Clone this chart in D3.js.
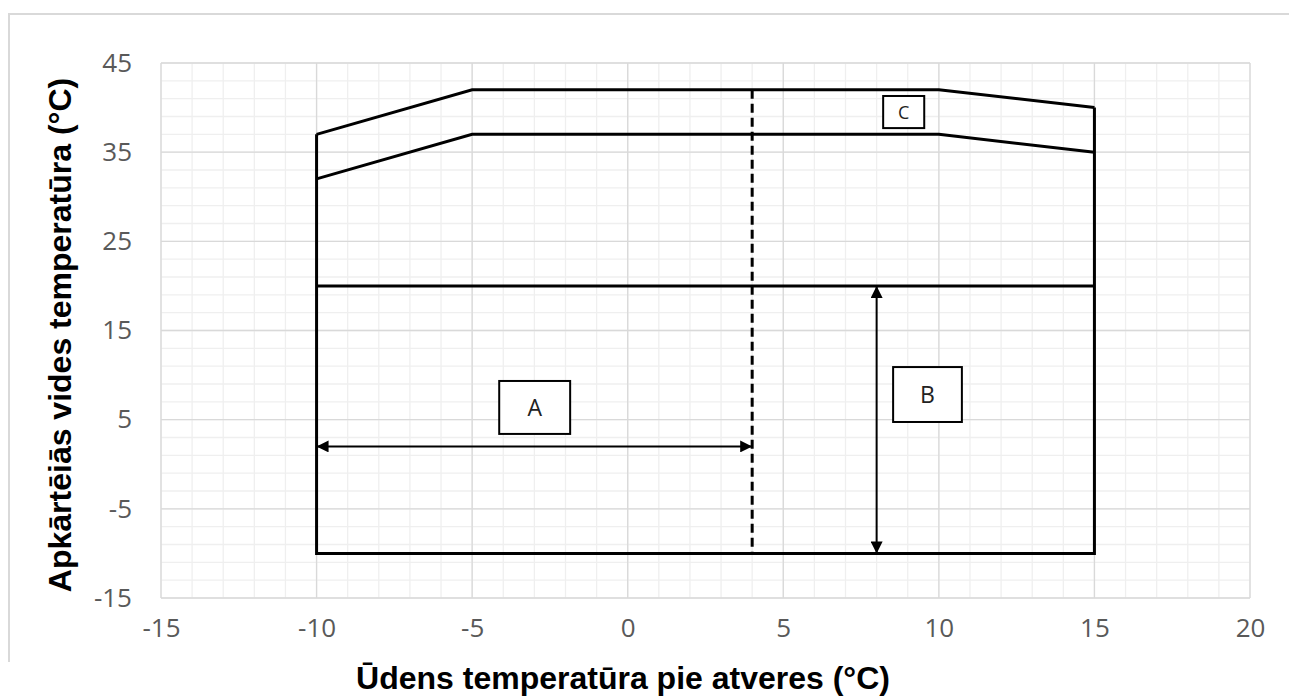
<!DOCTYPE html>
<html><head><meta charset="utf-8">
<script src="https://cdn.jsdelivr.net/npm/d3@7"></script>
<style>body{margin:0;background:#fff}svg{display:block}</style>
</head><body>
<script>
// ---- data ----
const xTicks = [-15, -10, -5, 0, 5, 10, 15, 20];
const yTicks = [-15, -5, 5, 15, 25, 35, 45];
const xTitle = "Ūdens temperatūra pie atveres (°C)";
const yTitle = "Apkārtēiās vides temperatūra (°C)";
const upperLimit = [[-10, 37], [-5, 42], [10, 42], [15, 40]];
const lowerLimit = [[-10, 32], [-5, 37], [10, 37], [15, 35]];
const envelope = [[-10, 37], [-10, -10], [15, -10], [15, 40]];
const midLine = [[-10, 20], [15, 20]];
const dashedLine = [[4, 42], [4, -10]];
const arrowA = [[-10, 2], [4, 2]];
const arrowB = [[8, 20], [8, -10]];
const boxLabels = ["A", "B", "C"];
const boxX0 = [-4.13, 8.53, 8.21];
const boxX1 = [-1.85, 10.74, 9.53];
const boxYTop = [9.34, 10.9, 41.3];
const boxYBot = [3.4, 4.74, 37.7];

// ---- layout ----
const W = 1289, H = 697;
const svg = d3.select("body").append("svg").attr("width", W).attr("height", H);
const x = d3.scaleLinear().domain([-15, 20]).range([161, 1250]);
const y = d3.scaleLinear().domain([-15, 45]).range([598, 63]);

// outer border (left + top)
svg.append("path").attr("d", `M9,662 V14 H${W}`).attr("fill", "none")
  .attr("stroke", "#d9d9d9").attr("stroke-width", 2);

const defs = svg.append("defs");
defs.append("marker").attr("id", "ah").attr("viewBox", "0 0 10 10")
  .attr("refX", 10).attr("refY", 5).attr("markerWidth", 7).attr("markerHeight", 6)
  .attr("markerUnits", "strokeWidth").attr("orient", "auto-start-reverse")
  .append("path").attr("d", "M0,0 L10,5 L0,10 z").attr("fill", "#000");

// grid
const g = svg.append("g");
const minorX = d3.range(-15, 21, 1), minorY = d3.range(-15, 46, 2);
g.selectAll(".mx").data(minorX).join("line")
  .attr("x1", d => x(d)).attr("x2", d => x(d)).attr("y1", y(-15)).attr("y2", y(45))
  .attr("stroke", "#efefef").attr("stroke-width", 1.3);
g.selectAll(".my").data(minorY).join("line")
  .attr("y1", d => y(d)).attr("y2", d => y(d)).attr("x1", x(-15)).attr("x2", x(20))
  .attr("stroke", "#efefef").attr("stroke-width", 1.3);
g.selectAll(".Mx").data(xTicks).join("line")
  .attr("x1", d => x(d)).attr("x2", d => x(d)).attr("y1", y(-15)).attr("y2", y(45))
  .attr("stroke", "#d9d9d9").attr("stroke-width", 1.3);
g.selectAll(".My").data(yTicks).join("line")
  .attr("y1", d => y(d)).attr("y2", d => y(d)).attr("x1", x(-15)).attr("x2", x(20))
  .attr("stroke", "#d9d9d9").attr("stroke-width", 1.3);

// axes (labels only)
const fmt = d => String(d);
const xAxis = svg.append("g").attr("transform", `translate(0,${y(-15)})`)
  .call(d3.axisBottom(x).tickValues(xTicks).tickSize(0).tickPadding(30).tickFormat(fmt));
const yAxis = svg.append("g").attr("transform", `translate(${x(-15)},0)`)
  .call(d3.axisLeft(y).tickValues(yTicks).tickSize(0).tickPadding(29).tickFormat(fmt));
[xAxis, yAxis].forEach(a => {
  a.select(".domain").remove();
  a.selectAll("text").attr("fill", "#595959").attr("font-family", "'Open Sans', sans-serif")
    .attr("font-size", 26);
});
xAxis.selectAll("text").attr("dy", "0.35em");

// lines
const line = d3.line().x(d => x(d[0])).y(d => y(d[1]));
const drawLine = (pts, w, dash) => svg.append("path").datum(pts).attr("d", line)
  .attr("fill", "none").attr("stroke", "#000").attr("stroke-width", w)
  .attr("stroke-dasharray", dash || null).attr("stroke-linejoin", "miter");
drawLine(upperLimit, 3);
drawLine(lowerLimit, 3);
drawLine(envelope, 3);
drawLine(midLine, 3);
drawLine(dashedLine, 3, "9,5");
drawLine(arrowA, 2).attr("marker-start", "url(#ah)").attr("marker-end", "url(#ah)");
drawLine(arrowB, 2).attr("marker-start", "url(#ah)").attr("marker-end", "url(#ah)");

// boxes
const fs = [23, 23, 18];
boxLabels.forEach((lab, i) => {
  svg.append("rect").attr("x", x(boxX0[i])).attr("y", y(boxYTop[i]))
    .attr("width", x(boxX1[i]) - x(boxX0[i])).attr("height", y(boxYBot[i]) - y(boxYTop[i]))
    .attr("fill", "#fff").attr("stroke", "#000").attr("stroke-width", 2);
  svg.append("text").attr("x", (x(boxX0[i]) + x(boxX1[i])) / 2)
    .attr("y", (y(boxYTop[i]) + y(boxYBot[i])) / 2).attr("dy", "0.36em")
    .attr("text-anchor", "middle").attr("font-family", "'Open Sans', sans-serif")
    .attr("font-size", fs[i]).attr("fill", "#222").text(lab);
});

// titles
svg.append("text").attr("x", 623).attr("y", 689).attr("text-anchor", "middle")
  .attr("font-family", "'Liberation Sans', Arial, sans-serif").attr("font-weight", "bold")
  .attr("font-size", 32).attr("fill", "#000").text(xTitle);
svg.append("text").attr("transform", "translate(71,335) rotate(-90)").attr("text-anchor", "middle")
  .attr("font-family", "'Liberation Sans', Arial, sans-serif").attr("font-weight", "bold")
  .attr("font-size", 32).attr("fill", "#000").text(yTitle);
</script>
</body></html>
